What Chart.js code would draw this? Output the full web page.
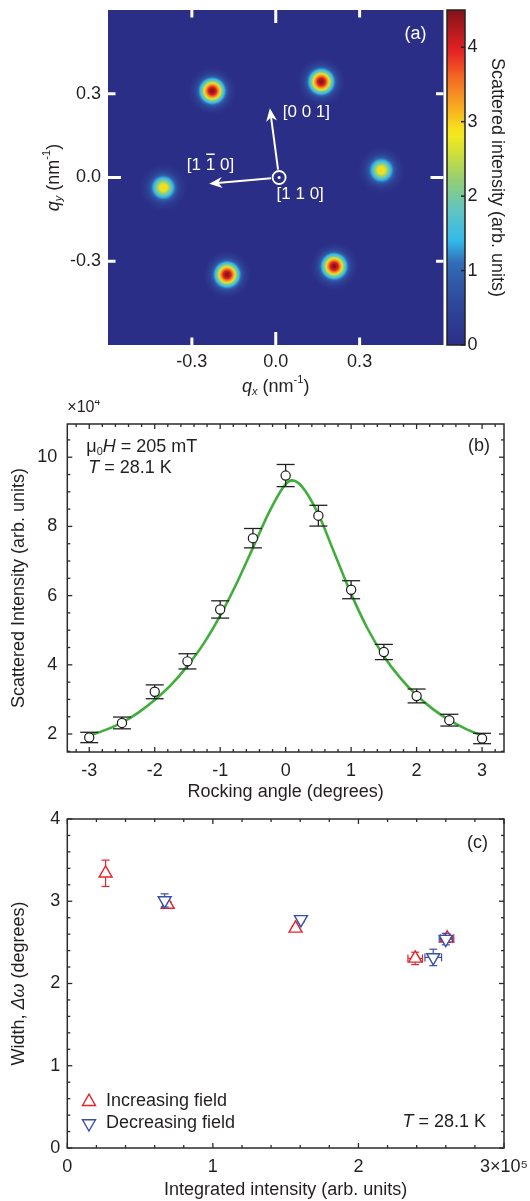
<!DOCTYPE html>
<html>
<head>
<meta charset="utf-8">
<script src="https://cdn.jsdelivr.net/npm/chart.js@4.4.1/dist/chart.umd.min.js"></script>
<style>
  body { margin: 0; background: #fff; }
  #wrap { position: relative; width: 530px; height: 1201px; overflow: hidden; }
  canvas { position: absolute; left: 0; }
</style>
</head>
<body>
<div id="wrap">
  <canvas id="mapChart" width="530" height="404" style="top:-4px"></canvas>
  <canvas id="rockChart" width="530" height="410" style="top:400px"></canvas>
  <canvas id="widthChart" width="530" height="396" style="top:805px"></canvas>
</div>
<script>
// ---- (a) diffraction spots ----
const spotQx = [-0.227, 0.163, 0.378, -0.402, -0.174, 0.209];
const spotQy = [0.310, 0.343, 0.026, -0.036, -0.348, -0.318];
const spotPeak = [4.5, 4.5, 3.0, 3.0, 4.5, 4.5];
const mapTicks = [-0.3, 0.0, 0.3];
const cbTicks = [0, 1, 2, 3, 4];

// ---- (b) rocking curve (x10^4) ----
const rockAngle = [-3, -2.5, -2, -1.5, -1, -0.5, 0, 0.5, 1, 1.5, 2, 2.5, 3];
const rockIntensity = [1.90, 2.32, 3.22, 4.10, 5.60, 7.66, 9.47, 8.31, 6.17, 4.37, 3.10, 2.40, 1.87];
const rockError = [0.15, 0.17, 0.20, 0.22, 0.25, 0.28, 0.32, 0.30, 0.26, 0.22, 0.20, 0.17, 0.15];
const fitAngle = [-3, -2.75, -2.5, -2.25, -2, -1.75, -1.5, -1.25, -1, -0.75, -0.5, -0.25, 0, 0.1, 0.25, 0.5, 0.75, 1, 1.25, 1.5, 1.75, 2, 2.25, 2.5, 2.75, 3];
const fitIntensity = [1.95, 2.12, 2.33, 2.62, 2.98, 3.42, 3.97, 4.62, 5.42, 6.35, 7.38, 8.42, 9.22, 9.33, 9.15, 8.35, 7.20, 6.05, 5.05, 4.25, 3.62, 3.12, 2.72, 2.40, 2.15, 1.95];
const rockXTicks = [-3, -2, -1, 0, 1, 2, 3];
const rockYTicks = [2, 4, 6, 8, 10];

// ---- (c) width vs integrated intensity (x10^5) ----
const incX = [0.263, 0.69, 1.568, 2.39, 2.61];
const incY = [3.34, 2.96, 2.67, 2.305, 2.55];
const incYErr = [0.16, 0.03, 0.03, 0.075, 0.05];
const incXErr = [0, 0, 0, 0.05, 0.045];
const decX = [0.669, 1.605, 2.514, 2.60];
const decY = [3.01, 2.78, 2.317, 2.54];
const decYErr = [0.08, 0.03, 0.10, 0.07];
const decXErr = [0, 0, 0.057, 0.045];
const widthXTicks = [0, 1, 2, 3];
const widthYTicks = [0, 1, 2, 3, 4];

const FONT = '"Liberation Sans", Arial, Helvetica, sans-serif';
const INK = '#231f20';
const RED = '#e8222b';
const BLUE = '#3a4fa8';
Chart.defaults.font.family = FONT;
Chart.defaults.font.size = 18;
Chart.defaults.color = INK;

// jet-like colour map used by the colour bar and the spots
const cmapStops = [
  [0.0, [43, 46, 134]], [0.6, [46, 74, 156]], [1.1, [50, 108, 182]],
  [1.4, [50, 185, 234]], [1.8, [96, 196, 196]], [2.2, [145, 205, 120]],
  [2.6, [212, 224, 52]], [2.85, [247, 234, 28]], [3.2, [247, 170, 32]],
  [3.6, [242, 104, 36]], [3.95, [230, 32, 36]], [4.5, [128, 20, 24]]
];
function cmap(v) {
  if (v <= cmapStops[0][0]) return cmapStops[0][1];
  for (let i = 1; i < cmapStops.length; i++) {
    const [v1, c1] = cmapStops[i];
    const [v0, c0] = cmapStops[i - 1];
    if (v <= v1) {
      const t = (v - v0) / (v1 - v0);
      return c0.map((c, k) => Math.round(c + (c1[k] - c) * t));
    }
  }
  return cmapStops[cmapStops.length - 1][1];
}
const rgb = (c, a = 1) => `rgba(${c[0]},${c[1]},${c[2]},${a})`;

function line(ctx, x1, y1, x2, y2) {
  ctx.beginPath(); ctx.moveTo(x1, y1); ctx.lineTo(x2, y2); ctx.stroke();
}

// text with italic / sub / sup pieces
function partFont(p, size) {
  const s = (p.sub || p.sup) ? Math.round(size * 0.62) : size;
  return `${p.it ? 'italic ' : ''}${s}px ${FONT}`;
}
function drawRich(ctx, x, y, parts, size, align, color) {
  ctx.save();
  ctx.fillStyle = color || INK;
  ctx.textBaseline = 'middle';
  ctx.textAlign = 'left';
  let w = 0;
  parts.forEach(p => { ctx.font = partFont(p, size); w += ctx.measureText(p.t).width; });
  let cx = align === 'center' ? x - w / 2 : align === 'right' ? x - w : x;
  parts.forEach(p => {
    ctx.font = partFont(p, size);
    const dy = p.sub ? size * 0.3 : p.sup ? -size * 0.38 : 0;
    ctx.fillText(p.t, cx, y + dy);
    cx += ctx.measureText(p.t).width;
  });
  ctx.restore();
}
function drawRichRotated(ctx, x, y, parts, size, angle) {
  ctx.save();
  ctx.translate(x, y);
  ctx.rotate(angle);
  drawRich(ctx, 0, 0, parts, size, 'center');
  ctx.restore();
}

function stepValues(min, max, step) {
  const out = [];
  for (let k = Math.ceil(min / step - 1e-9); k * step <= max + 1e-9; k++) out.push(k * step);
  return out;
}

// box + inward ticks on all four sides
function drawFrame(chart, xMajor, xMinor, yMajor, yMinor) {
  const { ctx, chartArea: a } = chart;
  const sx = chart.scales.x, sy = chart.scales.y;
  ctx.save();
  ctx.strokeStyle = '#2b2b2b';
  ctx.lineWidth = 1.3;
  const maj = 5, mnr = 3;
  stepValues(sx.min, sx.max, xMinor).forEach(v => {
    const len = xMajor.some(m => Math.abs(m - v) < 1e-6) ? maj : mnr;
    const px = sx.getPixelForValue(v);
    line(ctx, px, a.bottom, px, a.bottom - len);
    line(ctx, px, a.top, px, a.top + len);
  });
  stepValues(sy.min, sy.max, yMinor).forEach(v => {
    const len = yMajor.some(m => Math.abs(m - v) < 1e-6) ? maj : mnr;
    const py = sy.getPixelForValue(v);
    line(ctx, a.left, py, a.left + len, py);
    line(ctx, a.right, py, a.right - len, py);
  });
  ctx.lineWidth = 1.5;
  ctx.strokeRect(a.left, a.top, a.width, a.height);
  ctx.restore();
}

// error bars from dataset.yErr / dataset.xErr, drawn under the markers
const errorBars = {
  id: 'errorBars',
  beforeDatasetDraw(chart, args) {
    const ds = chart.data.datasets[args.index];
    if (!ds.yErr && !ds.xErr) return;
    const { ctx } = chart;
    const sx = chart.scales.x, sy = chart.scales.y;
    const cap = ds.capSize || 4;
    ctx.save();
    ctx.strokeStyle = ds.errColor || INK;
    ctx.lineWidth = ds.errWidth || 1.2;
    ds.data.forEach((p, k) => {
      const px = sx.getPixelForValue(p.x), py = sy.getPixelForValue(p.y);
      if (ds.yErr && ds.yErr[k]) {
        const t = sy.getPixelForValue(p.y + ds.yErr[k]);
        const b = sy.getPixelForValue(p.y - ds.yErr[k]);
        line(ctx, px, t, px, b);
        line(ctx, px - cap, t, px + cap, t);
        line(ctx, px - cap, b, px + cap, b);
      }
      if (ds.xErr && ds.xErr[k]) {
        const l = sx.getPixelForValue(p.x - ds.xErr[k]);
        const r = sx.getPixelForValue(p.x + ds.xErr[k]);
        line(ctx, l, py, r, py);
        line(ctx, l, py - 4, l, py + 4);
        line(ctx, r, py - 4, r, py + 4);
      }
    });
    ctx.restore();
  }
};

const fixedTicks = vals => scale => { scale.ticks = vals.map(v => ({ value: v })); };
const noGrid = { display: false, drawTicks: false, tickLength: 0 };
// pin an axis box to a fixed size and drop the label overflow padding
const fixSize = (key, size) => s => {
  s[key] = size;
  s.paddingTop = 0; s.paddingBottom = 0; s.paddingLeft = 0; s.paddingRight = 0;
};

// ================= (a) =================
function spotGradient(context) {
  const chart = context.chart;
  if (context.type !== 'data' || !chart.chartArea) return rgb(cmap(0));
  const raw = context.raw;
  const px = chart.scales.x.getPixelForValue(raw.x);
  const py = chart.scales.y.getPixelForValue(raw.y);
  const g = chart.ctx.createRadialGradient(px, py, 0, px, py, 24);
  for (let i = 0; i <= 12; i++) {
    const f = i / 12;
    const v = raw.v * Math.exp(-4.6 * f * f);
    g.addColorStop(f, rgb(cmap(v), i === 12 ? 0 : 1));
  }
  return g;
}

function arrow(ctx, x1, y1, x2, y2) {
  const ang = Math.atan2(y2 - y1, x2 - x1);
  const c = Math.cos(ang), s = Math.sin(ang);
  const hl = 13, hw = 5.5;
  line(ctx, x1, y1, x2 - 8 * c, y2 - 8 * s);
  ctx.beginPath();
  ctx.moveTo(x2, y2);
  ctx.lineTo(x2 - hl * c - hw * s, y2 - hl * s + hw * c);
  ctx.lineTo(x2 - 0.7 * hl * c, y2 - 0.7 * hl * s);
  ctx.lineTo(x2 - hl * c + hw * s, y2 - hl * s - hw * c);
  ctx.closePath();
  ctx.fill();
}

const mapDecor = {
  id: 'mapDecor',
  beforeDatasetsDraw(chart) {
    const { ctx, chartArea: a } = chart;
    ctx.save();
    ctx.fillStyle = rgb(cmap(0));
    ctx.fillRect(a.left, a.top, a.width, a.height);
    ctx.restore();
  },
  afterDraw(chart) {
    const { ctx, chartArea: a, scales } = chart;
    const sx = scales.x, sy = scales.y, cb = scales.cb;
    ctx.save();
    // white inward ticks
    ctx.strokeStyle = '#fff';
    ctx.lineWidth = 3;
    mapTicks.forEach(v => {
      const len = v === 0 ? 13 : 7.5;
      const px = sx.getPixelForValue(v), py = sy.getPixelForValue(v);
      line(ctx, px, a.top, px, a.top + len);
      line(ctx, px, a.bottom, px, a.bottom - len);
      line(ctx, a.left, py, a.left + len, py);
      line(ctx, a.right, py, a.right - len, py);
    });
    // crystal axes
    const ox = sx.getPixelForValue(0.012), oy = sy.getPixelForValue(0);
    ctx.fillStyle = '#fff';
    ctx.lineWidth = 2;
    const tips = [[-0.238, -0.022], [-0.021, 0.248]];
    tips.forEach(([qx, qy]) => {
      const tx = sx.getPixelForValue(qx), ty = sy.getPixelForValue(qy);
      const d = Math.hypot(tx - ox, ty - oy);
      arrow(ctx, ox + 8 * (tx - ox) / d, oy + 8 * (ty - oy) / d, tx, ty);
    });
    ctx.lineWidth = 1.8;
    ctx.beginPath(); ctx.arc(ox, oy, 6.5, 0, Math.PI * 2); ctx.stroke();
    ctx.beginPath(); ctx.arc(ox, oy, 1.5, 0, Math.PI * 2); ctx.fill();
    ctx.font = `17px ${FONT}`;
    ctx.textBaseline = 'middle';
    ctx.textAlign = 'left';
    ctx.fillText('[0 0 1]', sx.getPixelForValue(0.025), sy.getPixelForValue(0.235));
    ctx.fillText('[1 1 0]', sx.getPixelForValue(0.003), sy.getPixelForValue(-0.062));
    const lx = sx.getPixelForValue(-0.318), ly = sy.getPixelForValue(0.044);
    ctx.fillText('[1 1 0]', lx, ly);
    const ox1 = lx + ctx.measureText('[1 ').width, w1 = ctx.measureText('1').width;
    ctx.lineWidth = 1.5;
    line(ctx, ox1 + 0.5, ly - 11, ox1 + w1 - 0.5, ly - 11);
    ctx.font = `18px ${FONT}`;
    ctx.textAlign = 'center';
    ctx.fillText('(a)', a.right - 28, a.top + 24);

    // colour bar
    const x0 = a.right + 3.5, w = 18;
    const y0 = cb.getPixelForValue(cb.max), y1 = cb.getPixelForValue(0);
    const g = ctx.createLinearGradient(0, y1, 0, y0);
    for (let i = 0; i <= 45; i++) g.addColorStop(i / 45, rgb(cmap(i / 10)));
    ctx.fillStyle = g;
    ctx.fillRect(x0, y0, w, y1 - y0);
    ctx.strokeStyle = '#222';
    ctx.lineWidth = 1.5;
    ctx.strokeRect(x0, y0, w, y1 - y0);
    cbTicks.forEach(v => {
      const py = cb.getPixelForValue(v);
      line(ctx, x0 + w - 4, py, x0 + w, py);
    });
    ctx.restore();

    drawRichRotated(ctx, a.right + 53.5, (a.top + a.bottom) / 2,
      [{ t: 'Scattered intensity (arb. units)' }], 18, Math.PI / 2);
    drawRichRotated(ctx, a.left - 54, (a.top + a.bottom) / 2,
      [{ t: 'q', it: 1 }, { t: 'y', it: 1, sub: 1 }, { t: ' (nm' }, { t: '-1', sup: 1 }, { t: ')' }], 18, -Math.PI / 2);
    drawRich(ctx, (a.left + a.right) / 2, a.bottom + 42,
      [{ t: 'q', it: 1 }, { t: 'x', it: 1, sub: 1 }, { t: ' (nm' }, { t: '-1', sup: 1 }, { t: ')' }], 18, 'center');
  }
};

new Chart(document.getElementById('mapChart'), {
  type: 'scatter',
  data: {
    datasets: [{
      data: spotQx.map((x, i) => ({ x, y: spotQy[i], v: spotPeak[i] })),
      pointRadius: 24,
      pointHoverRadius: 24,
      borderWidth: 0,
      backgroundColor: spotGradient
    }]
  },
  options: {
    responsive: false,
    animation: false,
    events: [],
    layout: { autoPadding: false, padding: { top: 14, left: 0, right: 0, bottom: 0 } },
    plugins: { legend: { display: false }, tooltip: { enabled: false } },
    scales: {
      x: {
        type: 'linear', min: -0.6, max: 0.6,
        afterBuildTicks: fixedTicks(mapTicks),
        afterFit: fixSize('height', 55),
        grid: noGrid, border: { display: false },
        ticks: { padding: 6, callback: v => v.toFixed(1) }
      },
      y: {
        type: 'linear', min: -0.6, max: 0.6,
        afterBuildTicks: fixedTicks(mapTicks),
        afterFit: fixSize('width', 108),
        grid: noGrid, border: { display: false },
        ticks: { padding: 7, callback: v => v.toFixed(1) }
      },
      cb: {
        type: 'linear', position: 'right', min: 0, max: 4.5,
        afterBuildTicks: fixedTicks(cbTicks),
        afterFit: fixSize('width', 86.5),
        grid: noGrid, border: { display: false },
        ticks: { padding: 24 }
      }
    }
  },
  plugins: [mapDecor]
});

// ================= (b) =================
const rockDecor = {
  id: 'rockDecor',
  afterDraw(chart) {
    const { ctx, chartArea: a } = chart;
    drawFrame(chart, rockXTicks, 0.2, rockYTicks, 0.5);
    drawRich(ctx, a.left, a.top - 16, [{ t: '×10' }, { t: '4', sup: 1 }], 16, 'left');
    drawRich(ctx, a.left + 19, a.top + 22.6,
      [{ t: 'μ' }, { t: '0', sub: 1 }, { t: 'H', it: 1 }, { t: ' = 205 mT' }], 18, 'left');
    drawRich(ctx, a.left + 21, a.top + 44, [{ t: 'T', it: 1 }, { t: ' = 28.1 K' }], 18, 'left');
    drawRich(ctx, a.right - 14, a.top + 22.5, [{ t: '(b)' }], 18, 'right');
    drawRichRotated(ctx, 18.6, (a.top + a.bottom) / 2,
      [{ t: 'Scattered Intensity (arb. units)' }], 18, -Math.PI / 2);
    drawRich(ctx, (a.left + a.right) / 2, a.bottom + 40,
      [{ t: 'Rocking angle (degrees)' }], 18, 'center');
  }
};

new Chart(document.getElementById('rockChart'), {
  type: 'scatter',
  data: {
    datasets: [
      {
        type: 'line',
        data: fitAngle.map((x, i) => ({ x, y: fitIntensity[i] })),
        borderColor: '#3fae3a',
        borderWidth: 2.6,
        pointRadius: 0,
        cubicInterpolationMode: 'monotone',
        fill: false,
        order: 2
      },
      {
        data: rockAngle.map((x, i) => ({ x, y: rockIntensity[i] })),
        yErr: rockError,
        capSize: 9,
        errColor: '#222',
        errWidth: 1.3,
        pointRadius: 4.6,
        pointHoverRadius: 4.6,
        backgroundColor: '#fff',
        borderColor: '#1a1a1a',
        borderWidth: 1.2,
        order: 1
      }
    ]
  },
  options: {
    responsive: false,
    animation: false,
    events: [],
    layout: { autoPadding: false, padding: { top: 24, left: 0, right: 26, bottom: 0 } },
    plugins: { legend: { display: false }, tooltip: { enabled: false } },
    scales: {
      x: {
        type: 'linear', min: -3.335, max: 3.335,
        afterBuildTicks: fixedTicks(rockXTicks),
        afterFit: fixSize('height', 58),
        grid: noGrid, border: { display: false },
        ticks: { padding: 8 }
      },
      y: {
        type: 'linear', min: 1.48, max: 10.96,
        afterBuildTicks: fixedTicks(rockYTicks),
        afterFit: fixSize('width', 67.3),
        grid: noGrid, border: { display: false },
        ticks: { padding: 10 }
      }
    }
  },
  plugins: [errorBars, rockDecor]
});

// ================= (c) =================
function triangle(ctx, x, y, r, down) {
  const k = down ? -1 : 1;
  ctx.beginPath();
  ctx.moveTo(x, y - k * r);
  ctx.lineTo(x + 0.866 * r, y + k * 0.5 * r);
  ctx.lineTo(x - 0.866 * r, y + k * 0.5 * r);
  ctx.closePath();
  ctx.stroke();
}

const widthDecor = {
  id: 'widthDecor',
  afterDraw(chart) {
    const { ctx, chartArea: a } = chart;
    drawFrame(chart, widthXTicks, 0.2, widthYTicks, 0.2);
    drawRich(ctx, a.right - 16, a.top + 24, [{ t: '(c)' }], 18, 'right');
    drawRich(ctx, a.right - 18, a.bottom - 26, [{ t: 'T', it: 1 }, { t: ' = 28.1 K' }], 18, 'right');
    ctx.save();
    ctx.lineWidth = 1.4;
    ctx.strokeStyle = RED;
    triangle(ctx, a.left + 21.7, a.bottom - 46.3, 7.5, false);
    ctx.strokeStyle = BLUE;
    triangle(ctx, a.left + 21.7, a.bottom - 24.5, 7.5, true);
    ctx.restore();
    drawRich(ctx, a.left + 38.7, a.bottom - 47, [{ t: 'Increasing field' }], 18, 'left');
    drawRich(ctx, a.left + 38.7, a.bottom - 25, [{ t: 'Decreasing field' }], 18, 'left');
    drawRichRotated(ctx, 18.6, (a.top + a.bottom) / 2,
      [{ t: 'Width, ' }, { t: 'Δω', it: 1 }, { t: ' (degrees)' }], 18, -Math.PI / 2);
    drawRich(ctx, (a.left + a.right) / 2, a.bottom + 42,
      [{ t: 'Integrated intensity (arb. units)' }], 18, 'center');
  }
};

new Chart(document.getElementById('widthChart'), {
  type: 'scatter',
  data: {
    datasets: [
      {
        label: 'Increasing field',
        data: incX.map((x, i) => ({ x, y: incY[i] })),
        yErr: incYErr, xErr: incXErr, capSize: 4, errColor: RED, errWidth: 1.2,
        pointStyle: 'triangle', pointRadius: 7.5, pointHoverRadius: 7.5,
        backgroundColor: '#fff', borderColor: RED, borderWidth: 1.4,
        order: 2
      },
      {
        label: 'Decreasing field',
        data: decX.map((x, i) => ({ x, y: decY[i] })),
        yErr: decYErr, xErr: decXErr, capSize: 4, errColor: BLUE, errWidth: 1.2,
        pointStyle: 'triangle', rotation: 180, pointRadius: 7.5, pointHoverRadius: 7.5,
        backgroundColor: '#fff', borderColor: BLUE, borderWidth: 1.4,
        order: 1
      }
    ]
  },
  options: {
    responsive: false,
    animation: false,
    events: [],
    layout: { autoPadding: false, padding: { top: 14, left: 0, right: 26, bottom: 0 } },
    plugins: { legend: { display: false }, tooltip: { enabled: false } },
    scales: {
      x: {
        type: 'linear', min: 0, max: 3,
        afterBuildTicks: fixedTicks(widthXTicks),
        afterFit: fixSize('height', 53),
        grid: noGrid, border: { display: false },
        ticks: { padding: 8, callback: v => (v === 3 ? '3×10⁵' : String(v)) }
      },
      y: {
        type: 'linear', min: 0, max: 4,
        afterBuildTicks: fixedTicks(widthYTicks),
        afterFit: fixSize('width', 67.3),
        grid: noGrid, border: { display: false },
        ticks: { padding: 7 }
      }
    }
  },
  plugins: [errorBars, widthDecor]
});
</script>
</body>
</html>
